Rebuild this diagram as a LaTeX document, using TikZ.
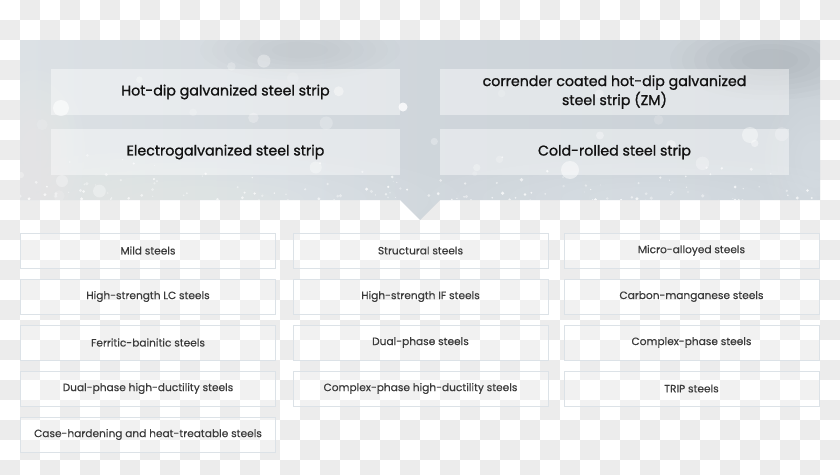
\documentclass[tikz,border=0pt]{standalone}
\usepackage{fontspec}
\setmainfont{Poppins}
\newfontfamily\popmed[FakeBold=1.1]{Poppins}
\newfontfamily\poplight[FakeBold=0.3]{Poppins}
\usetikzlibrary{calc}
\definecolor{chk}{HTML}{ECECEC}
\definecolor{gridline}{HTML}{DCE2E7}
\definecolor{gridtext}{HTML}{3A3A3A}
\definecolor{toptext}{HTML}{121212}
\definecolor{panelbase}{HTML}{CAD1D7}
\definecolor{panellite}{HTML}{DCE1E5}
\tikzset{
  topbox/.style={fill=white, fill opacity=0.42, text opacity=1, minimum width=349pt, minimum height=46pt,
    inner sep=0pt, align=center, text=toptext, font=\popmed\fontsize{14.2}{19}\selectfont},
  steelbox/.style={draw=gridline, line width=0.8pt, fill=white, fill opacity=0.3, text opacity=1,
    minimum width=255pt, minimum height=35pt, inner sep=0pt, text=gridtext,
    font=\poplight\fontsize{10.6}{13}\selectfont},
  bokeh/.style={fill=white, draw=none}
}
% soft blob: centre x, centre y, radius x, radius y, colour, opacity per layer
\newcommand\mysoftblob[6]{%
  \foreach \s in {1,0.88,0.76,0.64,0.52,0.40,0.28}{%
    \fill[#5, opacity=#6] (#1,#2) ellipse ({#3*\s} and {#4*\s});
  }%
}
\begin{document}
\begin{tikzpicture}[x=1pt,y=-1pt]
\useasboundingbox (0,0) rectangle (840,474);
% transparency checkerboard
\fill[white] (0,0) rectangle (840,474);
\foreach \i in {0,...,41}{
  \foreach \j in {0,...,23}{
    \pgfmathtruncatemacro{\chkodd}{mod(\i+\j,2)}
    \ifnum\chkodd=1 \fill[chk] (20*\i,20*\j) rectangle ++(20,20); \fi
  }
}
% panel
\path[left color=panellite, right color=panelbase, middle color=panelbase!70!panellite]
  (20,40) -- (820,40) -- (820,200) -- (440,200) -- (420,220) -- (400,200) -- (20,200) -- cycle;
\begin{scope}
\clip (20,40) -- (820,40) -- (820,200) -- (440,200) -- (420,220) -- (400,200) -- (20,200) -- cycle;
% soft haze
\mysoftblob{200}{200}{260}{50}{white}{0.035}
\mysoftblob{650}{198}{220}{40}{white}{0.03}
\mysoftblob{815}{160}{50}{70}{white}{0.035}
\mysoftblob{35}{150}{50}{80}{white}{0.035}
\mysoftblob{300}{50}{100}{30}{black}{0.008}
\mysoftblob{770}{60}{100}{40}{black}{0.01}
\pgfmathsetseed{7}
\foreach \k in {1,...,150}{
  \pgfmathsetmacro{\bx}{20+800*rnd}
  \pgfmathsetmacro{\by}{202-55*rnd*rnd}
  \pgfmathsetmacro{\br}{0.5+1.3*rnd}
  \pgfmathsetmacro{\bo}{0.3+0.5*rnd}
  \fill[bokeh, opacity=\bo] (\bx,\by) circle (\br);
}
\foreach \k in {1,...,25}{
  \pgfmathsetmacro{\bx}{20+800*rnd}
  \pgfmathsetmacro{\by}{60+140*rnd}
  \pgfmathsetmacro{\br}{2+5*rnd}
  \pgfmathsetmacro{\bo}{0.12+0.3*rnd}
  \fill[bokeh, opacity=\bo] (\bx,\by) circle (\br);
}
\fill[bokeh, opacity=0.6] (61,108) circle (8);
\fill[bokeh, opacity=0.8] (403,107) circle (4.5);
\fill[bokeh, opacity=0.4] (750,135) circle (8);
\fill[bokeh, opacity=0.5] (570,170) circle (9);
\fill[bokeh, opacity=0.3] (62,181) circle (6);
\end{scope}
% top boxes
\node[topbox] (hdg) at (225.5,92) {Hot-dip galvanized steel strip};
\node[topbox] (zm)  at (614.5,92) {corrender coated hot-dip galvanized\\steel strip (ZM)};
\node[topbox] (eg)  at (225.5,152) {Electrogalvanized steel strip};
\node[topbox] (cr)  at (614.5,152) {Cold-rolled steel strip};
% steel grid
\node[steelbox] (a1) at (148,250.5) {Mild steels};
\node[steelbox] (a2) at (148,296.5) {High-strength LC steels};
\node[steelbox] (a3) at (148,342.5) {Ferritic-bainitic steels};
\node[steelbox] (a4) at (148,388.5) {Dual-phase high-ductility steels};
\node[steelbox] (a5) at (148,434.5) {Case-hardening and heat-treatable steels};
\node[steelbox] (b1) at (420.5,250.5) {Structural steels};
\node[steelbox] (b2) at (420.5,296.5) {High-strength IF steels};
\node[steelbox] (b3) at (420.5,342.5) {Dual-phase steels};
\node[steelbox] (b4) at (420.5,388.5) {Complex-phase high-ductility steels};
\node[steelbox] (c1) at (691.5,250.5) {Micro-alloyed steels};
\node[steelbox] (c2) at (691.5,296.5) {Carbon-manganese steels};
\node[steelbox] (c3) at (691.5,342.5) {Complex-phase steels};
\node[steelbox] (c4) at (691.5,388.5) {TRIP steels};
\end{tikzpicture}
\end{document}
